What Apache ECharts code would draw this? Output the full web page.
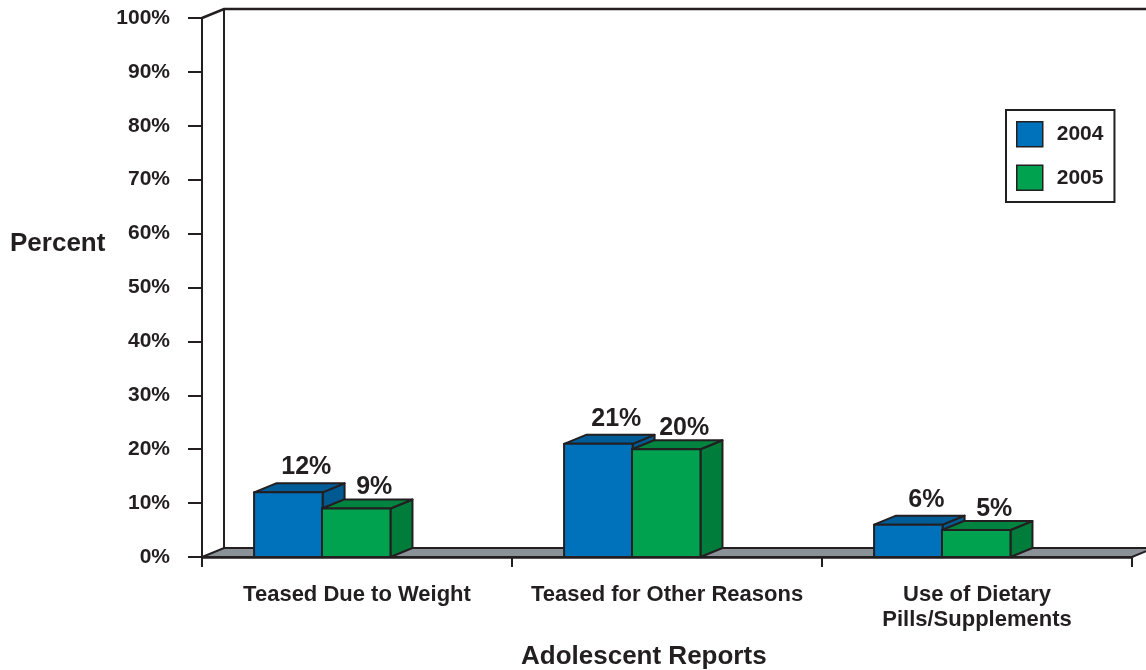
<!DOCTYPE html>
<html>
<head>
<meta charset="utf-8">
<script src="https://cdn.jsdelivr.net/npm/echarts@6/dist/echarts.min.js"></script>
<style>
html,body{margin:0;padding:0;background:#fff;}
#chart{width:1146px;height:670px;}
</style>
</head>
<body>
<div id="chart"></div>
<script>
var categories = ['Teased Due to Weight', 'Teased for Other Reasons', 'Use of Dietary\nPills/Supplements'];
var values2004 = [12, 21, 6];
var values2005 = [9, 20, 5];
var seriesNames = ['2004', '2005'];

var INK = '#231f20';
var FONT = '"Liberation Sans", Arial, sans-serif';
var DX = 22, DY = -9; // depth of the fake 3d

var toData = function(arr) {
	var out = [];
	for (var i = 0; i < arr.length; i++) {
		out.push([i, arr[i]]);
	}
	return out;
};

// one box per data item: front, top, side + value label
var boxRender = function(offsetFrac, colors, labelGap) {
	return function(params, api) {
		var base = api.coord([api.value(0), 0]);
		var tip = api.coord([api.value(0), api.value(1)]);
		var band = api.size([1, 0])[0];
		var w = band * 0.221;
		var x0 = base[0] + band * offsetFrac;
		var ty = tip[1], by = base[1];
		var line = {stroke: INK, lineWidth: 2, lineJoin: 'round'};
		return {
			type: 'group',
			children: [{
				type: 'polygon',
				shape: {points: [[x0 + w, ty], [x0 + w + DX, ty + DY], [x0 + w + DX, by + DY], [x0 + w, by]]},
				style: Object.assign({fill: colors[2]}, line)
			}, {
				type: 'polygon',
				shape: {points: [[x0, ty], [x0 + w, ty], [x0 + w + DX, ty + DY], [x0 + DX, ty + DY]]},
				style: Object.assign({fill: colors[1]}, line)
			}, {
				type: 'rect',
				shape: {x: x0, y: ty, width: w, height: by - ty},
				style: Object.assign({fill: colors[0]}, line)
			}, {
				type: 'text',
				style: {
					text: api.value(1) + '%',
					x: x0 + w / 2 + 18,
					y: ty + DY - labelGap,
					align: 'center',
					verticalAlign: 'middle',
					fontSize: 25,
					fontWeight: 'bold',
					fontFamily: FONT,
					fill: INK
				}
			}]
		};
	};
};

// floor + back wall
var frameRender = function(params, api) {
	var cs = params.coordSys;
	var x = cs.x, y = cs.y, w = cs.width, h = cs.height;
	var right = api.getWidth() + 10;
	return {
		type: 'group',
		children: [{
			type: 'polygon',
			shape: {points: [[x, y + h], [x + w, y + h], [x + w + DX, y + h + DY], [x + DX, y + h + DY]]},
			style: {fill: '#8a9197', stroke: INK, lineWidth: 2}
		}, {
			type: 'polyline',
			shape: {points: [[x, y], [x + DX, y + DY], [right, y + DY]]},
			style: {fill: null, stroke: INK, lineWidth: 2.5}
		}, {
			type: 'line',
			shape: {x1: x + DX, y1: y + DY, x2: x + DX, y2: y + h + DY},
			style: {stroke: INK, lineWidth: 2}
		}]
	};
};

var chart = echarts.init(document.getElementById('chart'));
chart.setOption({
	backgroundColor: '#fff',
	animation: false,
	grid: {left: 202, right: 14, top: 18, bottom: 113},
	legend: {
		data: seriesNames,
		orient: 'vertical',
		left: 1006,
		top: 110,
		padding: [11, 11, 11, 10],
		itemWidth: 26,
		itemHeight: 25,
		itemGap: 17,
		icon: 'rect',
		borderColor: INK,
		borderWidth: 2,
		itemStyle: {borderColor: INK, borderWidth: 1.5},
		textStyle: {fontSize: 21, fontWeight: 'bold', fontFamily: FONT, color: INK, padding: [0, 0, 0, 9]}
	},
	graphic: [{
		type: 'text',
		left: 10,
		top: 231,
		style: {text: 'Percent', fontSize: 26, fontWeight: 'bold', fontFamily: FONT, fill: INK}
	}, {
		type: 'text',
		left: 521,
		top: 644,
		style: {text: 'Adolescent Reports', fontSize: 26, fontWeight: 'bold', fontFamily: FONT, fill: INK}
	}],
	xAxis: {
		type: 'category',
		data: categories,
		axisLine: {lineStyle: {color: INK, width: 2.5}},
		axisTick: {show: true, length: 10, lineStyle: {color: INK, width: 2}},
		axisLabel: {
			interval: 0,
			margin: 25,
			lineHeight: 25,
			fontSize: 22,
			fontWeight: 'bold',
			fontFamily: FONT,
			color: INK
		},
		splitLine: {show: false}
	},
	yAxis: {
		type: 'value',
		min: 0,
		max: 100,
		interval: 10,
		axisLine: {show: true, lineStyle: {color: INK, width: 2}},
		axisTick: {show: true, length: 14, lineStyle: {color: INK, width: 2}},
		axisLabel: {
			formatter: '{value}%',
			margin: 32,
			fontSize: 21,
			fontWeight: 'bold',
			fontFamily: FONT,
			color: INK
		},
		splitLine: {show: false}
	},
	series: [{
		name: 'frame',
		type: 'custom',
		silent: true,
		z: 1,
		renderItem: frameRender,
		data: [[0, 0]]
	}, {
		name: seriesNames[0],
		type: 'custom',
		z: 2,
		itemStyle: {color: '#0072bc'},
		renderItem: boxRender(-0.332, ['#0072bc', '#005d98', '#005a92'], 16),
		encode: {x: 0, y: 1},
		data: toData(values2004)
	}, {
		name: seriesNames[1],
		type: 'custom',
		z: 3,
		itemStyle: {color: '#00a14f'},
		renderItem: boxRender(-0.113, ['#00a14f', '#00843f', '#007d3b'], 12),
		encode: {x: 0, y: 1},
		data: toData(values2005)
	}]
});
</script>
</body>
</html>
